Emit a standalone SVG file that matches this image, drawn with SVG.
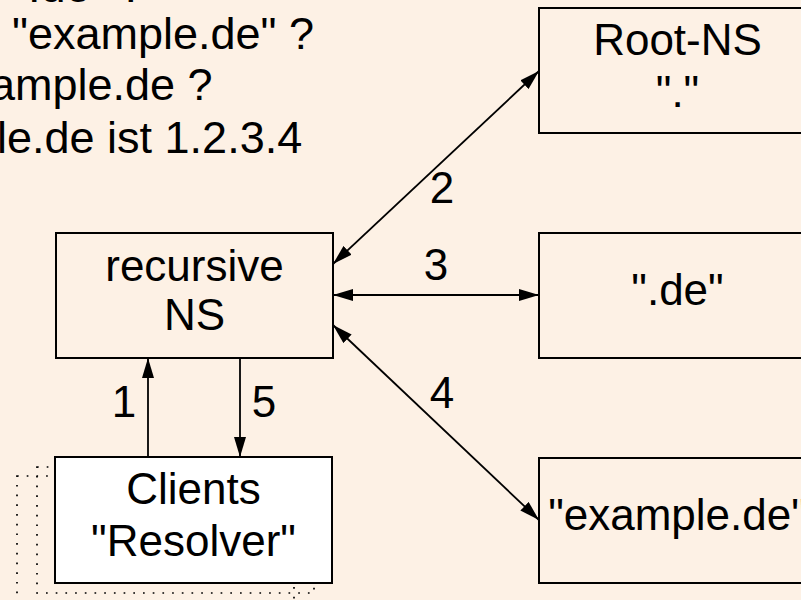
<svg xmlns="http://www.w3.org/2000/svg" width="801" height="600" viewBox="0 0 801 600">
  <defs>
    <marker id="head" viewBox="0 0 20 12" markerUnits="userSpaceOnUse" markerWidth="20" markerHeight="12" refX="20" refY="6" orient="auto-start-reverse">
      <path d="M0,0 L20,6 L0,12 z" fill="#000"/>
    </marker>
    <style>
      text { font-family: "Liberation Sans", Arial, Helvetica, sans-serif; font-size: 44px; fill: #000; }
      .log text { font-size: 45px; }
      .mid { text-anchor: middle; }
      .box { fill: none; stroke: #000; stroke-width: 2; }
      .white { fill: #fff; stroke: #000; stroke-width: 2; }
      .dotted { fill: none; stroke: #000; stroke-width: 1.7; stroke-dasharray: 1.7 8; }
      .conn { fill: none; stroke: #000; stroke-width: 1.8; }
    </style>
  </defs>

  <rect x="0" y="0" width="801" height="600" fill="#fdf1e5"/>

  <!-- query log, upper left -->
  <g id="log" class="log">
    <text x="12" y="2">".de" ?</text>
    <text x="12" y="49">"example.de" ?</text>
    <text x="-10" y="100">ample.de ?</text>
    <text x="-3" y="153">le.de ist 1.2.3.4</text>
  </g>

  <g id="connectors">
    <!-- 1: client to resolver -->
    <line class="conn" x1="148" y1="457" x2="148" y2="358" marker-end="url(#head)"/>
    <!-- 5: answer back to client -->
    <line class="conn" x1="240" y1="358" x2="240" y2="457" marker-end="url(#head)"/>
    <!-- 2, 3, 4: recursive queries -->
    <line class="conn" x1="333" y1="264" x2="539" y2="71" marker-start="url(#head)" marker-end="url(#head)"/>
    <line class="conn" x1="333" y1="295" x2="539" y2="295" marker-start="url(#head)" marker-end="url(#head)"/>
    <line class="conn" x1="333" y1="325" x2="539" y2="520" marker-start="url(#head)" marker-end="url(#head)"/>
    <text class="mid" x="124" y="417">1</text>
    <text class="mid" x="442" y="203">2</text>
    <text class="mid" x="436" y="280">3</text>
    <text class="mid" x="442" y="408">4</text>
    <text class="mid" x="264" y="417">5</text>
  </g>

  <g id="recursive-ns">
    <rect class="box" x="56" y="233" width="277" height="125"/>
    <text class="mid" x="194.5" y="281">recursive</text>
    <text class="mid" x="194.5" y="330">NS</text>
  </g>

  <g id="clients">
    <rect class="dotted" x="17" y="476" width="277" height="126"/>
    <rect class="dotted" x="37" y="467" width="277" height="126"/>
    <rect class="white" x="55" y="457" width="277" height="126"/>
    <text class="mid" x="193.5" y="504">Clients</text>
    <text class="mid" x="193.5" y="556">"Resolver"</text>
  </g>

  <g id="root-ns">
    <rect class="box" x="539" y="8" width="277" height="125"/>
    <text class="mid" x="677.5" y="55">Root-NS</text>
    <text class="mid" x="677.5" y="107">"."</text>
  </g>

  <g id="de-ns">
    <rect class="box" x="539" y="233" width="277" height="125"/>
    <text class="mid" x="677.5" y="305">".de"</text>
  </g>

  <g id="example-ns">
    <rect class="box" x="539" y="458" width="277" height="125"/>
    <text class="mid" x="677.5" y="530">"example.de"</text>
  </g>
</svg>
